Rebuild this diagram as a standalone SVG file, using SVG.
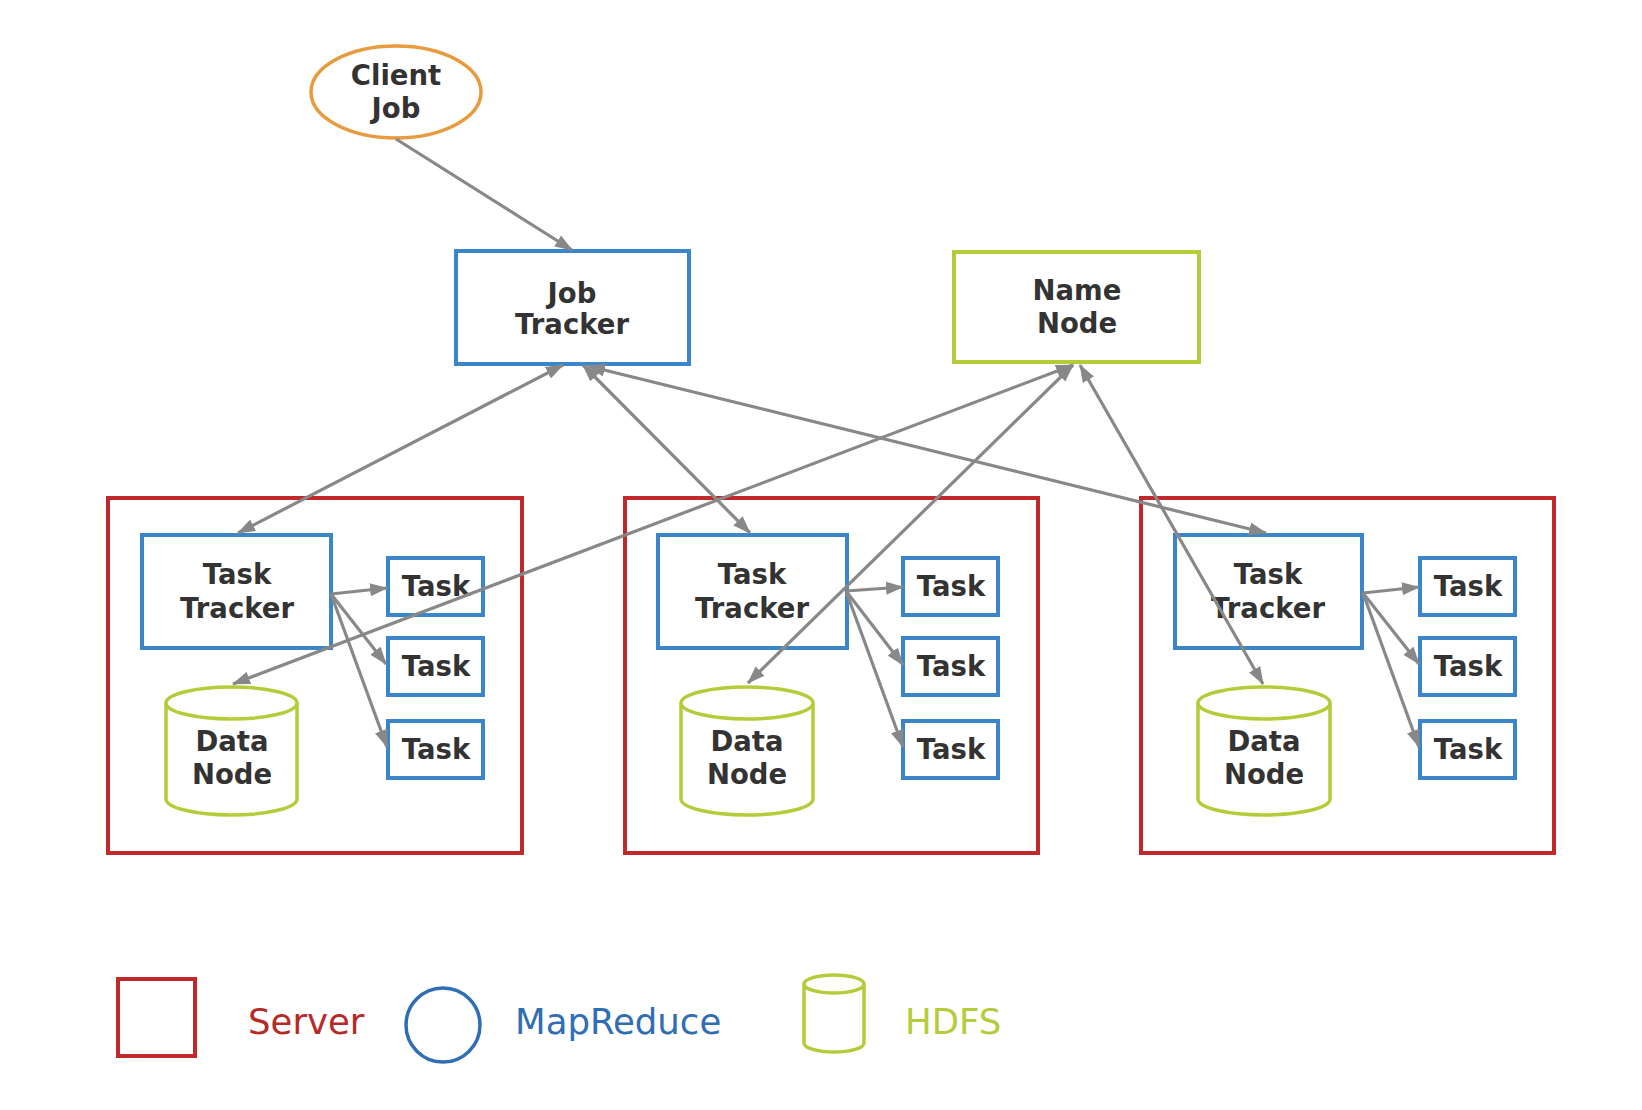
<svg xmlns="http://www.w3.org/2000/svg" width="1642" height="1110" viewBox="0 0 1642 1110">
  <style>
    .lbl { font-family: "DejaVu Sans", "Liberation Sans", sans-serif; font-weight: bold; font-size: 27.5px; fill: #333333; text-anchor: middle; }
    .leg { font-family: "DejaVu Sans", "Liberation Sans", sans-serif; font-size: 35.5px; }
    .server { fill: none; stroke: #C0282A; stroke-width: 4; }
    .mr { fill: #fff; stroke: #3A86C8; stroke-width: 4; }
    .hdfs { fill: #fff; stroke: #B5CC3A; stroke-width: 3.5; }
    .edge { fill: none; stroke: #888888; stroke-width: 3.2; }
  </style>
  <defs>
    <marker id="arrow" markerUnits="userSpaceOnUse" markerWidth="19" markerHeight="14" refX="17" refY="7" orient="auto-start-reverse">
      <path d="M0,0.5 L18,7 L0,13.5 z" fill="#888888"/>
    </marker>
  </defs>
  <rect width="1642" height="1110" fill="#ffffff"/>

  <!-- server enclosures -->
  <g id="server1"><rect class="server" x="108" y="498" width="414" height="355"/></g>
  <g id="server2"><rect class="server" x="625" y="498" width="413" height="355"/></g>
  <g id="server3"><rect class="server" x="1141" y="498" width="413" height="355"/></g>

  <!-- client job -->
  <g id="client-job">
    <ellipse cx="396" cy="92" rx="85" ry="46" fill="#fff" stroke="#E89A3C" stroke-width="3.5"/>
    <text class="lbl" x="396" y="85">Client</text>
    <text class="lbl" x="396" y="118">Job</text>
  </g>

  <!-- job tracker -->
  <g id="job-tracker">
    <rect class="mr" x="456" y="251" width="233" height="113"/>
    <text class="lbl" x="572" y="303">Job</text>
    <text class="lbl" x="572" y="334">Tracker</text>
  </g>

  <!-- name node -->
  <g id="name-node">
    <rect x="954" y="252" width="245" height="110" fill="#fff" stroke="#B5CC3A" stroke-width="4"/>
    <text class="lbl" x="1077" y="300">Name</text>
    <text class="lbl" x="1077" y="333">Node</text>
  </g>

  <!-- task trackers -->
  <g id="task-tracker1">
    <rect class="mr" x="142" y="535" width="189" height="113"/>
    <text class="lbl" x="237" y="584">Task</text>
    <text class="lbl" x="237" y="618">Tracker</text>
  </g>
  <g id="task-tracker2">
    <rect class="mr" x="658" y="535" width="189" height="113"/>
    <text class="lbl" x="752" y="584">Task</text>
    <text class="lbl" x="752" y="618">Tracker</text>
  </g>
  <g id="task-tracker3">
    <rect class="mr" x="1175" y="535" width="187" height="113"/>
    <text class="lbl" x="1268" y="584">Task</text>
    <text class="lbl" x="1268" y="618">Tracker</text>
  </g>

  <!-- tasks -->
  <g id="task1a"><rect class="mr" x="388" y="558" width="95" height="57"/><text class="lbl" x="436" y="596">Task</text></g>
  <g id="task1b"><rect class="mr" x="388" y="638" width="95" height="57"/><text class="lbl" x="436" y="676">Task</text></g>
  <g id="task1c"><rect class="mr" x="388" y="721" width="95" height="57"/><text class="lbl" x="436" y="759">Task</text></g>
  <g id="task2a"><rect class="mr" x="903" y="558" width="95" height="57"/><text class="lbl" x="951" y="596">Task</text></g>
  <g id="task2b"><rect class="mr" x="903" y="638" width="95" height="57"/><text class="lbl" x="951" y="676">Task</text></g>
  <g id="task2c"><rect class="mr" x="903" y="721" width="95" height="57"/><text class="lbl" x="951" y="759">Task</text></g>
  <g id="task3a"><rect class="mr" x="1420" y="558" width="95" height="57"/><text class="lbl" x="1468" y="596">Task</text></g>
  <g id="task3b"><rect class="mr" x="1420" y="638" width="95" height="57"/><text class="lbl" x="1468" y="676">Task</text></g>
  <g id="task3c"><rect class="mr" x="1420" y="721" width="95" height="57"/><text class="lbl" x="1468" y="759">Task</text></g>

  <!-- data nodes (cylinders) -->
  <g id="data-node1">
    <path class="hdfs" d="M166,703 A65.5,16 0 0 1 297,703 L297,799 A65.5,16 0 0 1 166,799 Z"/>
    <path class="hdfs" d="M166,703 A65.5,16 0 0 0 297,703"/>
    <text class="lbl" x="232" y="751">Data</text>
    <text class="lbl" x="232" y="784">Node</text>
  </g>
  <g id="data-node2">
    <path class="hdfs" d="M681,703 A66,16 0 0 1 813,703 L813,799 A66,16 0 0 1 681,799 Z"/>
    <path class="hdfs" d="M681,703 A66,16 0 0 0 813,703"/>
    <text class="lbl" x="747" y="751">Data</text>
    <text class="lbl" x="747" y="784">Node</text>
  </g>
  <g id="data-node3">
    <path class="hdfs" d="M1198,703 A66,16 0 0 1 1330,703 L1330,799 A66,16 0 0 1 1198,799 Z"/>
    <path class="hdfs" d="M1198,703 A66,16 0 0 0 1330,703"/>
    <text class="lbl" x="1264" y="751">Data</text>
    <text class="lbl" x="1264" y="784">Node</text>
  </g>

  <!-- connectors -->
  <g id="connectors">
    <path class="edge" d="M396,139 L572,250" marker-end="url(#arrow)"/>
    <path class="edge" d="M563,365 L238,533" marker-start="url(#arrow)" marker-end="url(#arrow)"/>
    <path class="edge" d="M583,365 L750,533" marker-start="url(#arrow)" marker-end="url(#arrow)"/>
    <path class="edge" d="M588,366 L1266,533" marker-start="url(#arrow)" marker-end="url(#arrow)"/>
    <path class="edge" d="M1073,365 L233,684" marker-start="url(#arrow)" marker-end="url(#arrow)"/>
    <path class="edge" d="M1073,365 L748,683" marker-start="url(#arrow)" marker-end="url(#arrow)"/>
    <path class="edge" d="M1080,365 L1263,684" marker-start="url(#arrow)" marker-end="url(#arrow)"/>

    <path class="edge" d="M331,594 L387,588" marker-end="url(#arrow)"/>
    <path class="edge" d="M331,594 L386,664" marker-end="url(#arrow)"/>
    <path class="edge" d="M331,594 L387,747" marker-end="url(#arrow)"/>
    <path class="edge" d="M846,591 L903,587" marker-end="url(#arrow)"/>
    <path class="edge" d="M846,591 L903,665" marker-end="url(#arrow)"/>
    <path class="edge" d="M846,591 L903,747" marker-end="url(#arrow)"/>
    <path class="edge" d="M1363,593 L1419,587" marker-end="url(#arrow)"/>
    <path class="edge" d="M1363,593 L1419,664" marker-end="url(#arrow)"/>
    <path class="edge" d="M1363,593 L1419,747" marker-end="url(#arrow)"/>
  </g>

  <!-- legend -->
  <g id="legend">
    <rect x="118" y="979" width="77" height="77" fill="none" stroke="#C0282A" stroke-width="4"/>
    <text class="leg" x="248" y="1034" fill="#B52A26">Server</text>
    <circle cx="443" cy="1025" r="37" fill="none" stroke="#2F6DB5" stroke-width="3.5"/>
    <text class="leg" x="515" y="1034" fill="#2F6DB5">MapReduce</text>
    <path d="M804,984 A30,9 0 0 1 864,984 L864,1043 A30,9 0 0 1 804,1043 Z" fill="none" stroke="#B5CC3A" stroke-width="3.5"/>
    <path d="M804,984 A30,9 0 0 0 864,984" fill="none" stroke="#B5CC3A" stroke-width="3.5"/>
    <text class="leg" x="905" y="1034" fill="#B5CC3A">HDFS</text>
  </g>
</svg>
